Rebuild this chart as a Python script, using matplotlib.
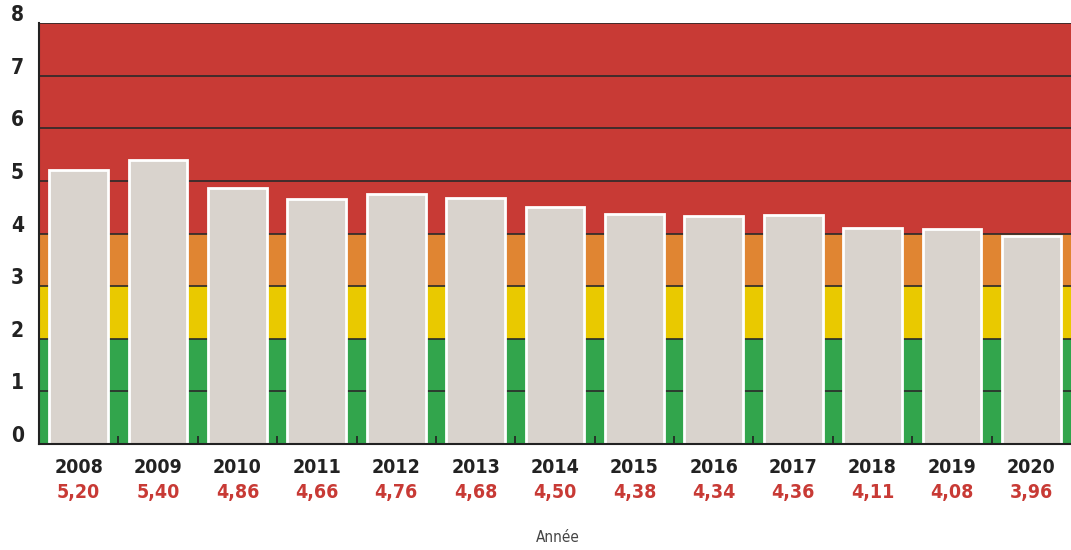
import matplotlib as mpl
import matplotlib.pyplot as plt
import matplotlib.transforms as mtransforms

mpl.rcParams['font.family'] = ['DejaVu Sans']
mpl.rcParams['font.stretch'] = 'condensed'

annees = ['2008', '2009', '2010', '2011', '2012', '2013', '2014',
          '2015', '2016', '2017', '2018', '2019', '2020']
valeurs = [5.20, 5.40, 4.86, 4.66, 4.76, 4.68, 4.50,
           4.38, 4.34, 4.36, 4.11, 4.08, 3.96]
# bandes de fond (bas, haut, couleur)
bandes = [(0, 2, '#32a54c'), (2, 3, '#e9c900'), (3, 4, '#e08532'), (4, 8, '#c83a35')]
graduations = list(range(0, 9))

fig = plt.figure(figsize=(10.71, 5.5), dpi=100)
ax = fig.add_axes([39 / 1071, 1 - 444 / 550, 1 - 39 / 1071, (444 - 23) / 550])

x = list(range(len(annees)))
ax.set_xlim(-0.5, len(annees) - 0.5)
ax.set_ylim(0, 8)

for bas, haut, c in bandes:
    ax.axhspan(bas, haut, color=c, zorder=0, lw=0)
for yv in graduations[1:]:
    ax.axhline(yv, color='#2a2a2a', lw=1.2, zorder=1)

ax.bar(x, valeurs, width=0.74, color='#d9d3cd', edgecolor='white', linewidth=2, zorder=2)

for s in ['top', 'right']:
    ax.spines[s].set_visible(False)
for s in ['left', 'bottom']:
    ax.spines[s].set_color('#222222')
    ax.spines[s].set_linewidth(1.5)
    ax.spines[s].set_zorder(3)

# étiquettes de l'axe y, un peu au-dessus des lignes
ax.set_yticks(graduations)
ax.set_yticklabels([])
ax.tick_params(axis='y', length=0)
decal = mtransforms.ScaledTranslation(0, 8 / 100, fig.dpi_scale_trans)
ytrans = mtransforms.blended_transform_factory(fig.transFigure, ax.transData) + decal
for g in graduations:
    ax.text(11 / 1071, g, str(g), transform=ytrans, ha='left', va='center',
            fontsize=15, fontweight='bold', color='#222222', clip_on=False)

ax.set_xticks([i + 0.5 for i in x[:-1]])
ax.set_xticklabels([])
ax.tick_params(axis='x', direction='in', length=6, width=1.2, color='#222222')

trans = ax.get_xaxis_transform()
for i, (a, v) in enumerate(zip(annees, valeurs)):
    ax.text(i, -0.055, a, transform=trans, ha='center', va='center',
            fontsize=14, fontweight='bold', color='#222222')
    ax.text(i, -0.115, f'{v:.2f}'.replace('.', ','), transform=trans, ha='center', va='center',
            fontsize=14, fontweight='bold', color='#c83a35')

fig.text(558 / 1071, 1 - 538 / 550, 'Année', ha='center', va='center', fontsize=11, color='#444444')

fig.savefig('out.png', dpi=100)
